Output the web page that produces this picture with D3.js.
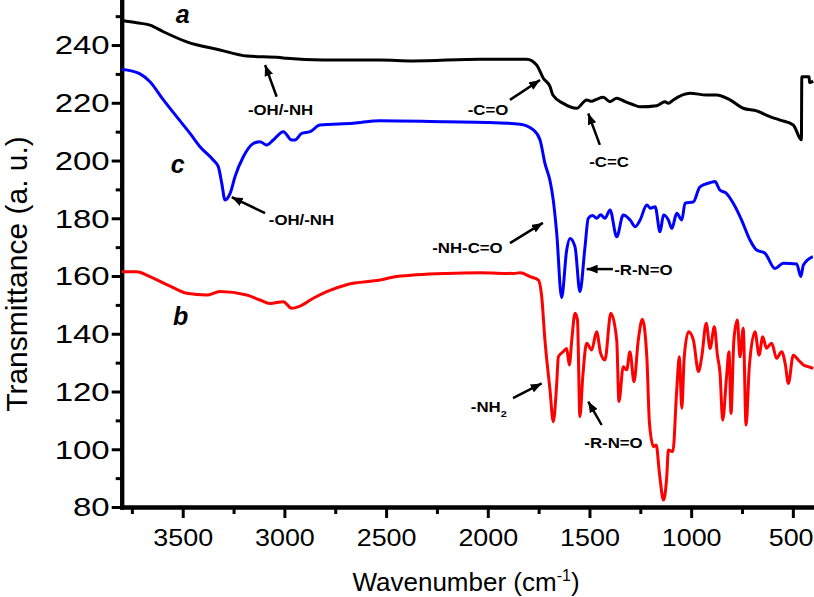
<!DOCTYPE html>
<html>
<head>
<meta charset="utf-8">
<script src="https://cdn.jsdelivr.net/npm/d3@7"></script>
<style>
  body { margin: 0; background: #fff; }
  svg { display: block; }
  text { font-family: "Liberation Sans", Arial, sans-serif; fill: #000; }
</style>
</head>
<body>
<script>
// spectrum a (black)
var waveA = [3800,3726,3661,3595,3480,3317,3185,3022,2989,2810,2530,2368,2038,1809,1760,1727,1694,1680,1629,1563,1514,1490,1465,1432,1399,1366,1325,1290,1252,1170,1129,1112,1088,1006,924,875,809,744,678,613,563,498,465,458,456,420,418,400];
var transA = [248.5,247.7,246.9,244.6,241.1,238.3,236.2,235.7,235.4,234.8,234.8,234.5,235.1,235.1,233.1,228.5,225.6,222.7,219.8,218.1,221,220.5,221.2,221.9,220.4,221.6,220.4,219.5,218.6,219,220.4,219.8,221,223.3,222.7,222.7,221,218.1,217.2,215.2,214,212.3,207.7,207.2,229,229,227,227.5];

// spectrum c (blue)
var waveC = [3800,3710,3661,3595,3530,3464,3415,3350,3325,3308,3292,3267,3243,3202,3153,3120,3087,3055,3005,2964,2948,2915,2874,2825,2661,2530,2202,2005,1841,1776,1743,1719,1694,1678,1661,1637,1612,1596,1571,1547,1522,1506,1485,1465,1445,1424,1399,1366,1334,1300,1275,1251,1218,1200,1177,1153,1136,1112,1095,1071,1046,1030,989,957,908,883,859,826,793,752,711,678,637,588,547,481,461,448,402];
var transC = [231.6,230,227.3,221,215.2,209.4,204.8,200.2,197.9,192.1,186.3,188.6,194.4,201.3,205.9,206.5,205.4,207.1,210,207.1,207.1,209.4,210,212.3,212.9,213.8,213.4,213.2,212.6,210.6,207.1,199,193,186.3,174.8,152.5,169,173,170.1,154.6,170.1,180,181,180,181.2,180,182.9,173.6,181.1,179.4,177.1,179.4,184.6,183.5,184,175.3,181.1,179.4,176.5,181.7,179.4,185.2,185.7,190.9,192.3,192.7,189.8,188.6,185.2,179.4,172.5,169,167.9,162.6,164.4,164.2,159.8,163.8,166.7];

// spectrum b (red)
var waveB = [3800,3726,3661,3562,3480,3382,3317,3185,3120,3071,3005,2964,2923,2858,2792,2694,2530,2448,2202,2038,1874,1841,1792,1751,1735,1719,1694,1678,1661,1653,1629,1612,1599,1587,1571,1559,1547,1533,1514,1489,1465,1445,1424,1395,1366,1355,1334,1317,1301,1281,1260,1240,1218,1205,1185,1172,1156,1136,1120,1112,1090,1071,1058,1046,1034,1013,989,964,948,926,907,886,871,858,845,826,814,804,790,773,760,744,730,714,686,666,648,630,604,580,555,538,522,498,473,448,424,400];
var transB = [161.5,161.5,159.8,156.5,154,153.4,154.6,153.4,151.7,150.5,151.1,148.8,149.6,152.3,154.6,157,158.6,159.8,160.9,161.1,160.9,161.1,159.8,158.6,153,137.8,120.5,109.5,122.8,132,133.8,134.9,129.2,137.8,147.1,144.8,111.3,125.1,136.7,134.4,140.7,133.2,130.9,147.1,137.8,116.5,128.6,127.5,133.8,123.4,137.8,145,132,109,100.9,101.5,91.7,82.4,90.5,99.7,99.2,120.5,132,114.2,132,140.7,137.8,126.9,132,143.6,134.9,142.4,132.6,126.3,110.1,125.1,133.8,112.4,137.8,144.8,132,141.9,108.4,128.6,140.7,132.6,139,135,136.7,131.5,133.8,129.8,122.8,132.6,130.9,129.2,128.6,128];

var yTicks = [80,100,120,140,160,180,200,220,240];
var yMinor = [90,110,130,150,170,190,210,230,250];
var xTicks = [3500,3000,2500,2000,1500,1000,500];
var xMinor = [3750,3250,2750,2250,1750,1250,750];

// curve letters
var curveNames = ['a','c','b'];
var curveNameWave = [3500,3525,3510];
var curveNameVal = [247.5,195.6,143];

// band annotations: text position, arrow tail, arrow head
var noteText = ['-OH/-NH','-C=O','-C=C','-OH/-NH','-NH-C=O','-R-N=O','-NH','-R-N=O'];
var noteWave = [3019,1999,1404,2916,2100,1235,1995,1382];
var noteVal = [215.8,215.8,197.7,177.7,168.1,160.3,113,100.3];
var tailWave = [3038,1891,1449,3095,1891,1385,1876,1440];
var tailVal = [222.1,221,205.4,181.8,171.4,162.4,117.7,108.4];
var headWave = [3095,1743,1506,3259,1729,1514,1735,1506];
var headVal = [233.1,227.9,216.3,187.3,178.4,162.4,122.8,116.5];

var width = 814, height = 597;

var svg = d3.select('body').append('svg').attr('width', width).attr('height', height);

var x = d3.scaleLinear().domain([3800, 396]).range([121.7, 814]);
var y = d3.scaleLinear().domain([80, 255.6]).range([507, 0]);

// axes
function styleAxis(g, w) {
  g.select('.domain').attr('stroke-width', 4).attr('stroke-linecap', 'square');
  g.selectAll('.tick line').attr('stroke-width', w);
}

var gxm = svg.append('g').attr('transform', 'translate(0,507)')
  .call(d3.axisBottom(x).tickValues(xMinor).tickSize(7).tickSizeOuter(0).tickFormat(''));
styleAxis(gxm, 3);
var gx = svg.append('g').attr('transform', 'translate(0,507)')
  .call(d3.axisBottom(x).tickValues(xTicks).tickSize(11).tickSizeOuter(0).tickFormat(d3.format('d')));
styleAxis(gx, 3);
gx.selectAll('.tick text')
  .attr('y', 39.5).attr('dy', null)
  .attr('x', function(d){ return d === 500 ? -2 : 0; })
  .attr('font-size', 24)
  .attr('transform', 'scale(1.12,1)');

var gym = svg.append('g').attr('transform', 'translate(121.7,0)')
  .call(d3.axisLeft(y).tickValues(yMinor).tickSize(6).tickSizeOuter(0).tickFormat(''));
styleAxis(gym, 3);
var gy = svg.append('g').attr('transform', 'translate(121.7,0)')
  .call(d3.axisLeft(y).tickValues(yTicks).tickSize(10).tickSizeOuter(0).tickFormat(d3.format('d')));
styleAxis(gy, 3);
gy.selectAll('.tick text')
  .attr('x', -12 / 1.32).attr('dy', '0.35em')
  .attr('font-size', 25)
  .attr('transform', 'scale(1.32,1)');

// titles
svg.append('text')
  .attr('transform', 'translate(27,274) rotate(-90)')
  .attr('text-anchor', 'middle')
  .attr('font-size', 30)
  .text('Transmittance (a. u.)');

var xt = svg.append('text')
  .attr('x', 466).attr('y', 591)
  .attr('text-anchor', 'middle')
  .attr('font-size', 26);
xt.append('tspan').text('Wavenumber (cm');
xt.append('tspan').attr('dy', -10).attr('font-size', 16).text('-1');
xt.append('tspan').attr('dy', 10).text(')');

// spectra
var line = d3.line()
  .x(function(d){ return x(d[0]); })
  .y(function(d){ return y(d[1]); })
  .curve(d3.curveMonotoneX);

var series = [
  {w: waveA, t: transA, c: '#000000'},
  {w: waveC, t: transC, c: '#0000ff'},
  {w: waveB, t: transB, c: '#ff0000'}
];
series.forEach(function(s){
  svg.append('path')
    .attr('fill', 'none')
    .attr('stroke', s.c)
    .attr('stroke-width', 3)
    .attr('stroke-linejoin', 'round')
    .attr('d', line(d3.zip(s.w, s.t)));
});

// curve letters
curveNames.forEach(function(n, i){
  svg.append('text')
    .attr('x', x(curveNameWave[i])).attr('y', y(curveNameVal[i]))
    .attr('text-anchor', 'middle')
    .attr('font-size', 25)
    .attr('font-weight', 'bold')
    .attr('font-style', 'italic')
    .text(n);
});

// arrows
svg.append('defs').append('marker')
  .attr('id', 'arr')
  .attr('viewBox', '0 0 10 8')
  .attr('refX', 10).attr('refY', 4)
  .attr('markerWidth', 11).attr('markerHeight', 9)
  .attr('markerUnits', 'userSpaceOnUse')
  .attr('orient', 'auto')
  .append('path').attr('d', 'M0,0L10,4L0,8Z').attr('fill', '#000');

noteText.forEach(function(t, i){
  svg.append('line')
    .attr('x1', x(tailWave[i])).attr('y1', y(tailVal[i]))
    .attr('x2', x(headWave[i])).attr('y2', y(headVal[i]))
    .attr('stroke', '#000').attr('stroke-width', 2.5)
    .attr('marker-end', 'url(#arr)');
  var tx = svg.append('text')
    .attr('transform', 'translate(' + x(noteWave[i]) + ',' + y(noteVal[i]) + ') scale(1.2,1)')
    .attr('text-anchor', 'middle')
    .attr('font-size', 14)
    .attr('font-weight', 'bold');
  tx.append('tspan').text(t);
  if (t === '-NH') {
    tx.append('tspan').attr('dy', 5).attr('font-size', 9).text('2');
  }
});
</script>
</body>
</html>
